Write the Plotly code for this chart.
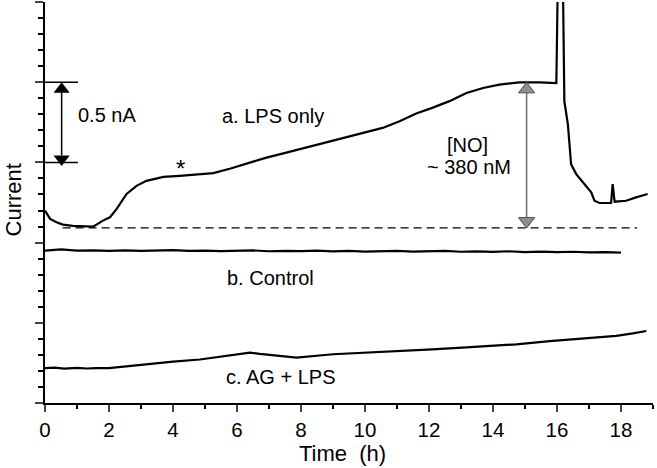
import plotly.graph_objects as go

# ---- data (time in h, current in nA above the lowest axis tick) ----
lps_t = [0, 0.16, 0.36, 0.56, 0.87, 1.19, 1.5, 1.61, 1.81, 2.03, 2.24, 2.55, 2.86,
         3.17, 3.7, 4.21, 4.74, 5.26, 5.8, 6.4, 6.92, 7.45, 7.96, 8.5, 9.0, 9.5,
         10.04, 10.55, 11.08, 11.6, 12.1, 12.64, 13.17, 13.69, 14.2, 14.83, 15.45,
         15.98, 16.03, 16.18, 16.23, 16.34, 16.39, 16.44, 16.6, 16.81, 16.96, 17.07,
         17.17, 17.33, 17.69, 17.74, 17.8, 18.16, 18.47, 18.83]
lps_v = [1.199, 1.148, 1.127, 1.112, 1.104, 1.100, 1.100, 1.112, 1.137, 1.158, 1.210,
         1.303, 1.354, 1.385, 1.410, 1.416, 1.425, 1.433, 1.462, 1.500, 1.530, 1.556,
         1.582, 1.607, 1.633, 1.660, 1.685, 1.715, 1.757, 1.805, 1.840, 1.882, 1.933,
         1.964, 1.985, 1.999, 1.999, 1.995, 2.7, 2.7, 1.881, 1.737, 1.613, 1.489,
         1.427, 1.375, 1.334, 1.313, 1.261, 1.247, 1.247, 1.365, 1.255, 1.261, 1.282,
         1.303]

ctrl_t = [i * 0.5 for i in range(37)]
ctrl_v = [0.950, 0.958, 0.950, 0.952, 0.948, 0.951, 0.949, 0.950, 0.953, 0.948,
          0.950, 0.947, 0.949, 0.951, 0.946, 0.949, 0.947, 0.950, 0.945, 0.948,
          0.944, 0.947, 0.949, 0.944, 0.946, 0.948, 0.943, 0.945, 0.942, 0.946,
          0.941, 0.944, 0.940, 0.943, 0.939, 0.941, 0.938]

ag_t = [0, 0.3, 0.6, 1.0, 1.3, 1.6, 2.0, 2.5, 2.97, 3.5, 4.0, 4.84, 5.46, 5.88, 6.4,
        6.71, 7.3, 7.86, 9.0, 10.0, 11.08, 12.1, 13.17, 14.73, 15.77, 16.81, 17.85,
        18.37, 18.79]
ag_v = [0.217, 0.220, 0.214, 0.219, 0.215, 0.218, 0.217, 0.228, 0.238, 0.248, 0.258,
        0.271, 0.287, 0.300, 0.314, 0.306, 0.292, 0.283, 0.304, 0.313, 0.324, 0.334,
        0.347, 0.366, 0.386, 0.403, 0.419, 0.434, 0.449]

baseline_t = [0.55, 18.5]
baseline_v = [1.092, 1.092]

scale_t = 0.52            # 0.5 nA scale bar
scale_lo, scale_hi = 1.5, 2.0
no_t = 15.05              # [NO] arrow
no_lo, no_hi = 1.092, 1.999

FONT = "Liberation Sans, Arial, Helvetica, sans-serif"
PX = 401.0 / 2.5          # px per nA on the y axis
TRI = 14                  # triangle marker size
off = (TRI / 2) / PX      # centre of a triangle sits r px inside its tip

fig = go.Figure()

line = dict(color="black", width=2.2)
fig.add_trace(go.Scatter(x=lps_t, y=lps_v, mode="lines", line=line))
fig.add_trace(go.Scatter(x=ctrl_t, y=ctrl_v, mode="lines", line=line))
fig.add_trace(go.Scatter(x=ag_t, y=ag_v, mode="lines", line=line))
fig.add_trace(go.Scatter(x=baseline_t, y=baseline_v, mode="lines",
                         line=dict(color="black", width=1.3, dash="8px,5px")))

# scale bar: two horizontal rules and a black double arrow
for yv in (scale_lo, scale_hi):
    fig.add_trace(go.Scatter(x=[0, 1.03], y=[yv, yv], mode="lines",
                             line=dict(color="black", width=1.5)))
fig.add_trace(go.Scatter(x=[scale_t, scale_t], y=[scale_lo + off, scale_hi - off],
                         mode="lines", line=dict(color="black", width=1.5)))
fig.add_trace(go.Scatter(x=[scale_t, scale_t], y=[scale_hi - off, scale_lo + off / 2],
                         mode="markers",
                         marker=dict(symbol=["triangle-up", "triangle-down"], size=TRI,
                                     color="black", line=dict(width=0))))

# [NO] gray double arrow
fig.add_trace(go.Scatter(x=[no_t, no_t], y=[no_lo + 0.02, no_hi],
                         mode="lines", line=dict(color="#6e6e6e", width=1.5)))
fig.add_trace(go.Scatter(x=[no_t, no_t], y=[no_hi - off, no_lo + 0.02 + off / 2],
                         mode="markers",
                         marker=dict(symbol=["triangle-up", "triangle-down"], size=TRI,
                                     color="#8f8f8f",
                                     line=dict(color="#4a4a4a", width=1))))

labels = [
    ("0.5 nA", 1.94, 1.796, 0),
    ("a. LPS only", 7.12, 1.787, 0),
    ("*", 4.24, 1.495, -5),
    ("[NO]", 13.19, 1.607, 0),
    ("~ 380 nM", 13.25, 1.473, 0),
    ("b. Control", 7.05, 0.780, 0),
    ("c. AG + LPS", 7.37, 0.164, 0),
]
for txt, xx, yy, ys in labels:
    fig.add_annotation(x=xx, y=yy, text=txt, showarrow=False, yshift=ys,
                       xanchor="center", yanchor="middle",
                       font=dict(family=FONT, size=20 if txt != "*" else 24,
                                 color="black"))

fig.add_annotation(xref="paper", yref="paper", x=0, y=0.505, xshift=-32,
                   xanchor="center", yanchor="middle",
                   text="Current", textangle=-90, showarrow=False,
                   font=dict(family=FONT, size=22, color="black"))
fig.add_annotation(xref="paper", yref="paper", x=0.49, y=0, yshift=-50,
                   xanchor="center", yanchor="middle",
                   text="Time\u00a0 (h)", showarrow=False,
                   font=dict(family=FONT, size=22, color="black"))

fig.update_layout(
    width=657, height=468,
    margin=dict(l=45, r=4, t=2, b=65),
    paper_bgcolor="white", plot_bgcolor="white",
    showlegend=False,
    font=dict(family=FONT, size=20, color="black"),
    xaxis=dict(range=[0, 19], dtick=2, tick0=0, ticks="outside", ticklen=7,
               tickwidth=2, showline=True, linecolor="black", linewidth=2,
               showgrid=False, zeroline=False, automargin=False,
               tickfont=dict(family=FONT, size=20.5),
               minor=dict(dtick=1, ticks="outside", ticklen=4, tickwidth=2,
                          tickcolor="black", showgrid=False)),
    yaxis=dict(range=[0, 2.5], dtick=0.5, tick0=0, ticks="outside", ticklen=8,
               tickwidth=2, showline=True, linecolor="black", linewidth=2,
               showgrid=False, zeroline=False, showticklabels=False,
               automargin=False,
               minor=dict(dtick=0.1, ticks="outside", ticklen=5, tickwidth=2,
                          tickcolor="black", showgrid=False)),
)

# the page's default body margin would push the figure 8 px off the window
fig.write_html("out.html", config={"displayModeBar": False},
               post_script="document.body.style.margin='0';")
